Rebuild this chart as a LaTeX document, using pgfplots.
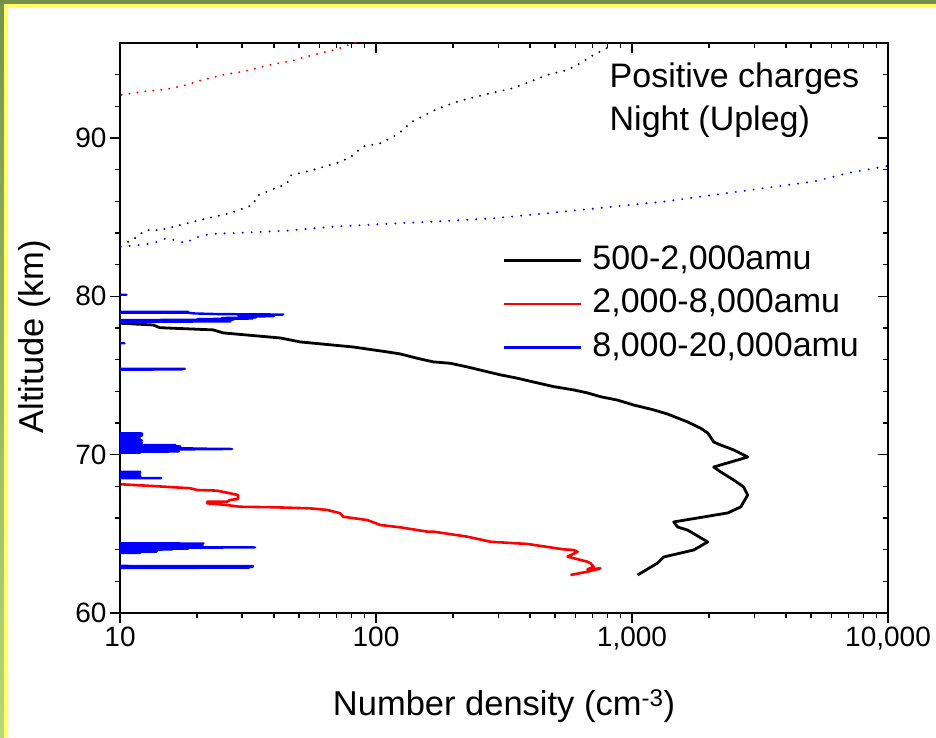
\documentclass[border=0pt]{standalone}
\usepackage{pgfplots}
\pgfplotsset{compat=1.18}
\usepackage{fontspec}
\setmainfont{Liberation Sans}

\definecolor{frameolive}{RGB}{118,146,74}
\definecolor{framelight}{RGB}{182,216,122}
\definecolor{frameyellow}{RGB}{255,255,102}

% 500-2,000 amu (x = number density, y = altitude)
\pgfplotstableread{
x y
10.06 78.30
13.46 78.19
14.3 78.02
23.1 77.88
25.3 77.69
42.3 77.37
50.6 77.12
81.5 76.80
110.7 76.49
124.5 76.36
144.6 76.09
167.5 75.86
195.3 75.77
227.5 75.54
271.7 75.24
306.3 75.04
356 74.83
412 74.59
493.5 74.30
591 74.09
670 73.90
754 73.66
876 73.45
1013 73.14
1214 72.83
1374 72.57
1648 72.07
1854 71.67
1976 71.37
2062 70.93
2084 70.80
2221 70.61
2495 70.30
2831 69.85
2084 69.22
2221 68.91
2495 68.40
2729 67.96
2831 67.45
2660 66.70
2366 66.32
1455 65.75
1508 65.43
1648 65.24
1976 64.49
1742 63.98
1331 63.54
1260 63.16
1052 62.40
}\blackdata

% 2,000-8,000 amu
\pgfplotstableread{
x y
10.06 68.13
13.46 68.02
18.8 67.88
20.0 67.77
23.9 67.73
26.9 67.56
28.9 67.45
28.9 67.20
26.9 67.14
26.2 67.03
21.9 67.03
21.9 66.93
26.2 66.82
29.4 66.71
39.6 66.68
55.3 66.61
64.5 66.51
72.5 66.30
74.5 66.08
92.5 65.87
104 65.56
124.5 65.41
158.8 65.14
167.5 65.14
227.5 64.82
280 64.50
391 64.36
540 64.02
591 63.98
613 63.87
560 63.56
629 63.35
670 63.24
689 63.14
708 62.92
670 62.76
753 62.82
670 62.61
575 62.40
}\reddata

% 8,000-20,000 amu (values below 10 fall off the axis)
\pgfplotstableread{
x y
5 80.12
10.6 80.10
5 80.07
5 79.04
18.5 79.02
5 78.99
18.5 78.96
19.5 78.92
24 78.88
43.4 78.85
36 78.81
29 78.78
40 78.75
30 78.71
34 78.67
25 78.63
33 78.60
20 78.56
27.7 78.52
5 78.49
26 78.46
27 78.42
12 78.39
5 78.37
5 77.06
10.4 77.04
5 77.02
5 75.44
17.9 75.42
5 75.40
17.5 75.38
5 75.36
5 71.36
12.2 71.34
5 71.30
12.2 71.27
5 71.23
12.2 71.20
5 71.16
12.0 71.14
5 71.00
12.0 70.97
5 70.93
12.2 70.90
5 70.86
12.0 70.83
5 70.79
12.2 70.76
5 70.72
12.0 70.69
5 70.63
16.5 70.60
5 70.56
17.2 70.53
5 70.50
17.0 70.47
12 70.44
17.2 70.41
21 70.38
27.4 70.36
17 70.33
5 70.30
16 70.27
5 70.23
17 70.20
5 70.16
12 70.13
5 70.10
5 68.93
12.0 68.91
5 68.87
12.0 68.84
5 68.80
11.8 68.77
5 68.73
12.0 68.70
5 68.66
12.0 68.63
5 68.56
14.5 68.52
5 68.49
5 64.41
21.2 64.39
5 64.36
20.5 64.33
5 64.30
21 64.27
13 64.24
20 64.21
5 64.18
33.7 64.14
5 64.10
18.5 64.07
5 64.04
16 64.01
5 63.98
14 63.95
5 63.91
13.9 63.88
5 63.84
12 63.80
5 63.76
5 62.98
33.1 62.96
5 62.93
33.0 62.91
5 62.88
32 62.86
5 62.84
}\bluedata

% dotted profiles
\pgfplotstableread{
x y
10.15 92.72
12.3 92.93
15.2 93.08
18.2 93.35
20.6 93.63
25.3 93.99
30.3 94.20
38.6 94.62
47.5 94.89
56.9 95.25
70.6 95.61
81.5 95.99
90 96.2
}\reddot

\pgfplotstableread{
x y
10.75 83.44
11.45 83.67
12.0 83.94
12.7 84.18
14.3 84.18
18.8 84.66
20.6 84.83
26.9 85.25
33.1 85.78
34.3 86.35
39.6 86.77
44.9 87.11
46.2 87.63
56.9 87.99
72.5 88.49
79.3 88.79
89.1 89.46
104 89.67
117 90.09
128 90.51
136 90.97
168 91.73
183 91.98
214 92.36
263 92.72
344 93.15
468 93.99
560 94.30
630 94.73
689 95.14
774 95.57
848 95.88
}\blackdot

\pgfplotstableread{
x y
10.06 83.14
12.0 83.25
13.46 83.35
15.2 83.67
18.2 83.35
19.3 83.67
22.5 83.94
30.3 84.02
44.9 84.15
68.0 84.40
106.9 84.57
167.5 84.72
287.5 84.93
468 85.25
848 85.67
1331 85.98
2084 86.41
3270 86.83
5134 87.25
6966 87.78
10000 88.24
}\bluedot

\begin{document}
\begin{tikzpicture}[x=1pt,y=1pt]
\useasboundingbox (0,0) rectangle (936,737);
\fill[white] (0,0) rectangle (936,737);
\shade[top color=frameolive, bottom color=framelight] (0,0) rectangle (4,737);
\fill[frameolive] (0,733) rectangle (936,737);
\fill[frameyellow] (4,0) rectangle (8,733);
\fill[frameyellow] (4,730) rectangle (936,733);

\begin{axis}[
  at={(120pt,124pt)}, anchor=south west,
  scale only axis, width=768pt, height=570pt,
  xmode=log, xmin=10, xmax=10000,
  ymin=60, ymax=96,
  xtick={10,100,1000,10000},
  minor xtick={20,30,40,50,60,70,80,90,200,300,400,500,600,700,800,900,2000,3000,4000,5000,6000,7000,8000,9000},
  ytick={60,70,80,90},
  minor ytick={62,64,66,68,72,74,76,78,82,84,86,88,92,94},
  major tick length=10pt, minor tick length=5pt,
  every tick/.style={black, line width=1.3pt},
  axis line style={line width=1.4pt},
  xtick pos=bottom, ytick pos=left, tick align=outside,
  xticklabels={10,100,{1,000},{10,000}},
  yticklabels={60,70,80,90},
  ticklabel style={font=\fontsize{28}{32}\selectfont},
  xlabel={Number density (cm\textsuperscript{-3})},
  ylabel={Altitude (km)},
  label style={font=\fontsize{34.5}{40}\selectfont},
  xlabel style={at={(axis description cs:0.5,-0.164)}, anchor=center},
  ylabel style={at={(axis description cs:-0.111,0.485)}, anchor=center},
  legend style={at={(rel axis cs:0.4945,0.654)}, anchor=north west,
    draw=none, fill=none, font=\fontsize{34}{40}\selectfont,
    row sep=7.5pt, nodes={inner sep=2pt, text height=25pt, text depth=7pt},
    /tikz/every odd column/.append style={column sep=8pt}},
  legend cell align=left,
  legend image code/.code={\draw[#1, line width=2.4pt] (0pt,0pt) -- (77pt,0pt);},
]
\addplot[black, line width=2.8pt, line join=round] table {\blackdata};
\addlegendentry{500-2,000amu}
\addplot[red, line width=2.6pt, line join=round] table {\reddata};
\addlegendentry{2,000-8,000amu}
\addplot[blue, line width=2.4pt, line join=round] table {\bluedata};
\addlegendentry{8,000-20,000amu}

\addplot[forget plot, red, line width=2.2pt, line cap=round, dash pattern=on 0pt off 8pt] table {\reddot};
\addplot[forget plot, black, line width=2.2pt, line cap=round, dash pattern=on 0pt off 8pt] table {\blackdot};
\addplot[forget plot, blue, line width=2.2pt, line cap=round, dash pattern=on 0pt off 9pt] table {\bluedot};

\node[anchor=west, font=\fontsize{34}{40}\selectfont] at (rel axis cs:0.633,0.937) {Positive charges};
\node[anchor=west, font=\fontsize{34}{40}\selectfont] at (rel axis cs:0.633,0.862) {Night (Upleg)};
\end{axis}

\begin{axis}[
  at={(120pt,124pt)}, anchor=south west,
  scale only axis, width=768pt, height=570pt,
  xmode=log, xmin=10, xmax=10000,
  ymin=60, ymax=96,
  xtick={10,100,1000,10000},
  minor xtick={20,30,40,50,60,70,80,90,200,300,400,500,600,700,800,900,2000,3000,4000,5000,6000,7000,8000,9000},
  ytick={60,70,80,90},
  minor ytick={62,64,66,68,72,74,76,78,82,84,86,88,92,94},
  major tick length=10pt, minor tick length=5pt,
  every tick/.style={black, line width=1.3pt},
  xtick pos=top, ytick pos=right, tick align=inside,
  xticklabels={}, yticklabels={},
  axis line style={draw=none},
]
\addplot[draw=none, forget plot] coordinates {(10,60)};
\end{axis}
\end{tikzpicture}
\end{document}
